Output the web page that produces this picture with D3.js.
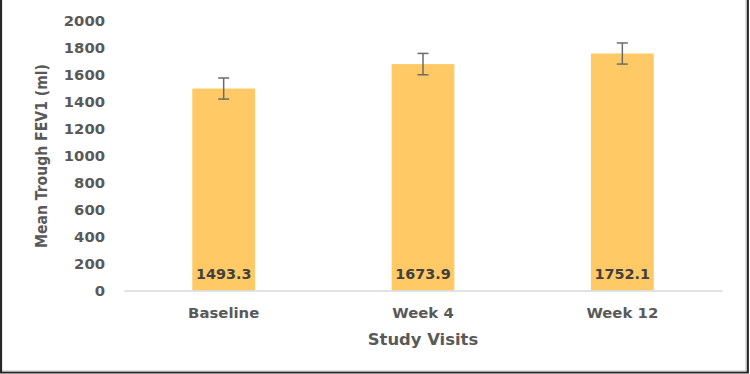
<!DOCTYPE html>
<html>
<head>
<meta charset="utf-8">
<script src="https://cdn.jsdelivr.net/npm/d3@7"></script>
<style>
  body { margin: 0; background: #fff; }
  svg { display: block; }
</style>
</head>
<body>
<div id="chart"></div>
<script>
// chart data
var visits = ["Baseline", "Week 4", "Week 12"];
var meanFev1 = [1493.3, 1673.9, 1752.1];
var errFev1 = [78, 79, 78];
var yTicks = [0, 200, 400, 600, 800, 1000, 1200, 1400, 1600, 1800, 2000];

var width = 750;
var height = 374;

var svg = d3
  .select("#chart")
  .append("svg")
  .attr("width", width)
  .attr("height", height);

svg.append("rect")
  .attr("width", width)
  .attr("height", height)
  .attr("fill", "#fff");

// frame (left, right, bottom)
svg.append("path")
  .attr("d", "M1,0 V372.5 H747.8 V0")
  .attr("fill", "none")
  .attr("stroke", "#262626")
  .attr("stroke-width", 2.2);
svg.append("path")
  .attr("d", "M2.5,371 H746 V0")
  .attr("fill", "none")
  .attr("stroke", "#bdbdbd")
  .attr("stroke-width", 1);

var xScale = d3
  .scaleBand()
  .domain(visits)
  .range([124, 722])
  .paddingInner(0.685)
  .paddingOuter(0.3425);

var yScale = d3
  .scaleLinear()
  .domain([0, 2000])
  .range([290.5, 20]);

var rows = visits.map(function(v, i) {
  return { visit: v, mean: meanFev1[i], err: errFev1[i] };
});

// y axis labels
var yAxis = d3.axisLeft(yScale)
  .tickValues(yTicks)
  .tickFormat(d3.format("d"))
  .tickSize(0)
  .tickPadding(0);
var gy = svg.append("g")
  .attr("transform", "translate(105,0)")
  .call(yAxis);
gy.select(".domain").remove();
gy.selectAll("text")
  .attr("fill", "#595959")
  .attr("dy", "0.36em")
  .style("font-family", "DejaVu Sans")
  .style("font-weight", "bold")
  .style("font-size", "14.8px");

// bars
svg.selectAll(".bar")
  .data(rows)
  .enter()
  .append("rect")
  .attr("class", "bar")
  .attr("x", function(d) { return xScale(d.visit); })
  .attr("width", xScale.bandwidth())
  .attr("y", function(d) { return yScale(d.mean); })
  .attr("height", function(d) { return yScale(0) - yScale(d.mean); })
  .attr("fill", "#FFC966");

// x axis
var xAxis = d3.axisBottom(xScale).tickSize(0).tickPadding(17);
var gx = svg.append("g")
  .attr("transform", "translate(0," + yScale(0) + ")")
  .call(xAxis);
gx.select(".domain")
  .attr("stroke", "#d9d9d9")
  .attr("stroke-width", 1.6);
gx.selectAll("text")
  .attr("fill", "#595959")
  .style("font-family", "DejaVu Sans")
  .style("font-weight", "bold")
  .style("font-size", "14.9px");

// error bars
var eb = svg.selectAll(".err")
  .data(rows)
  .enter()
  .append("g")
  .attr("class", "err")
  .attr("stroke", "#6b6b6b")
  .attr("stroke-width", 1.5);
eb.append("line")
  .attr("x1", function(d) { return xScale(d.visit) + xScale.bandwidth() / 2; })
  .attr("x2", function(d) { return xScale(d.visit) + xScale.bandwidth() / 2; })
  .attr("y1", function(d) { return yScale(d.mean + d.err); })
  .attr("y2", function(d) { return yScale(d.mean - d.err); });
eb.selectAll(".cap")
  .data(function(d) { return [d.mean + d.err, d.mean - d.err].map(function(v) { return { visit: d.visit, v: v }; }); })
  .enter()
  .append("line")
  .attr("x1", function(d) { return xScale(d.visit) + xScale.bandwidth() / 2 - 5.5; })
  .attr("x2", function(d) { return xScale(d.visit) + xScale.bandwidth() / 2 + 5.5; })
  .attr("y1", function(d) { return yScale(d.v); })
  .attr("y2", function(d) { return yScale(d.v); });

// data labels
svg.selectAll(".lbl")
  .data(rows)
  .enter()
  .append("text")
  .attr("class", "lbl")
  .attr("x", function(d) { return xScale(d.visit) + xScale.bandwidth() / 2; })
  .attr("y", 279)
  .attr("text-anchor", "middle")
  .attr("fill", "#404040")
  .style("font-family", "DejaVu Sans")
  .style("font-weight", "bold")
  .style("font-size", "14.4px")
  .text(function(d) { return d.mean.toFixed(1); });

// axis titles
svg.append("text")
  .attr("transform", "translate(47,156)rotate(-90)")
  .attr("text-anchor", "middle")
  .attr("fill", "#595959")
  .style("font-family", "DejaVu Sans Condensed")
  .style("font-weight", "bold")
  .style("font-size", "15.6px")
  .text("Mean Trough FEV1 (ml)");

svg.append("text")
  .attr("x", 423)
  .attr("y", 345)
  .attr("text-anchor", "middle")
  .attr("fill", "#595959")
  .style("font-family", "DejaVu Sans")
  .style("font-weight", "bold")
  .style("font-size", "16.4px")
  .text("Study Visits");
</script>
</body>
</html>
